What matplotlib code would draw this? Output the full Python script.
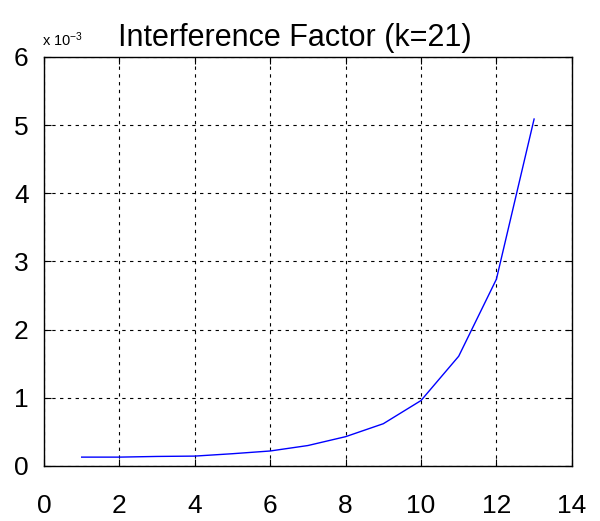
import matplotlib
matplotlib.use('Agg')
import matplotlib.pyplot as plt

plt.rcParams['font.family'] = ['Liberation Sans', 'DejaVu Sans']
plt.rcParams['mathtext.fontset'] = 'custom'
plt.rcParams['mathtext.rm'] = 'Liberation Sans'
plt.rcParams['mathtext.it'] = 'Liberation Sans'

# Interference factor values (in units of 1e-3)
k_values = [1, 2, 3, 4, 5, 6, 7, 8, 9, 10, 11, 12, 13]
factor = [0.13, 0.13, 0.14, 0.145, 0.18, 0.22, 0.30, 0.43, 0.62, 0.96, 1.61, 2.74, 5.09]
xticks = [0, 2, 4, 6, 8, 10, 12, 14]
yticks = [0, 1, 2, 3, 4, 5, 6]

fig = plt.figure(figsize=(6, 5.21), dpi=100)
ax = fig.add_axes([0.0733, 0.1056, 0.8797, 0.785])

ax.plot(k_values, factor, color='blue', linewidth=1)

ax.set_xlim(0, 14)
ax.set_ylim(0, 6)
ax.set_xticks(xticks)
ax.set_yticks(yticks)
ax.tick_params(direction='in', top=True, right=True, labelsize=19, length=5)
ax.tick_params(axis='x', pad=20)
ax.tick_params(axis='y', pad=11)
ax.grid(True, color='black', linestyle=(0, (3, 4)), linewidth=0.8)
for s in ax.spines.values():
    s.set_linewidth(1)

ax.set_title('Interference Factor (k=21)', fontsize=22, pad=8, x=0.475)
ax.text(-0.003, 1.02, r'x 10$^{\mathrm{-3}}$', transform=ax.transAxes, fontsize=10.5,
        ha='left', va='bottom')

fig.savefig('out.png', dpi=100)
